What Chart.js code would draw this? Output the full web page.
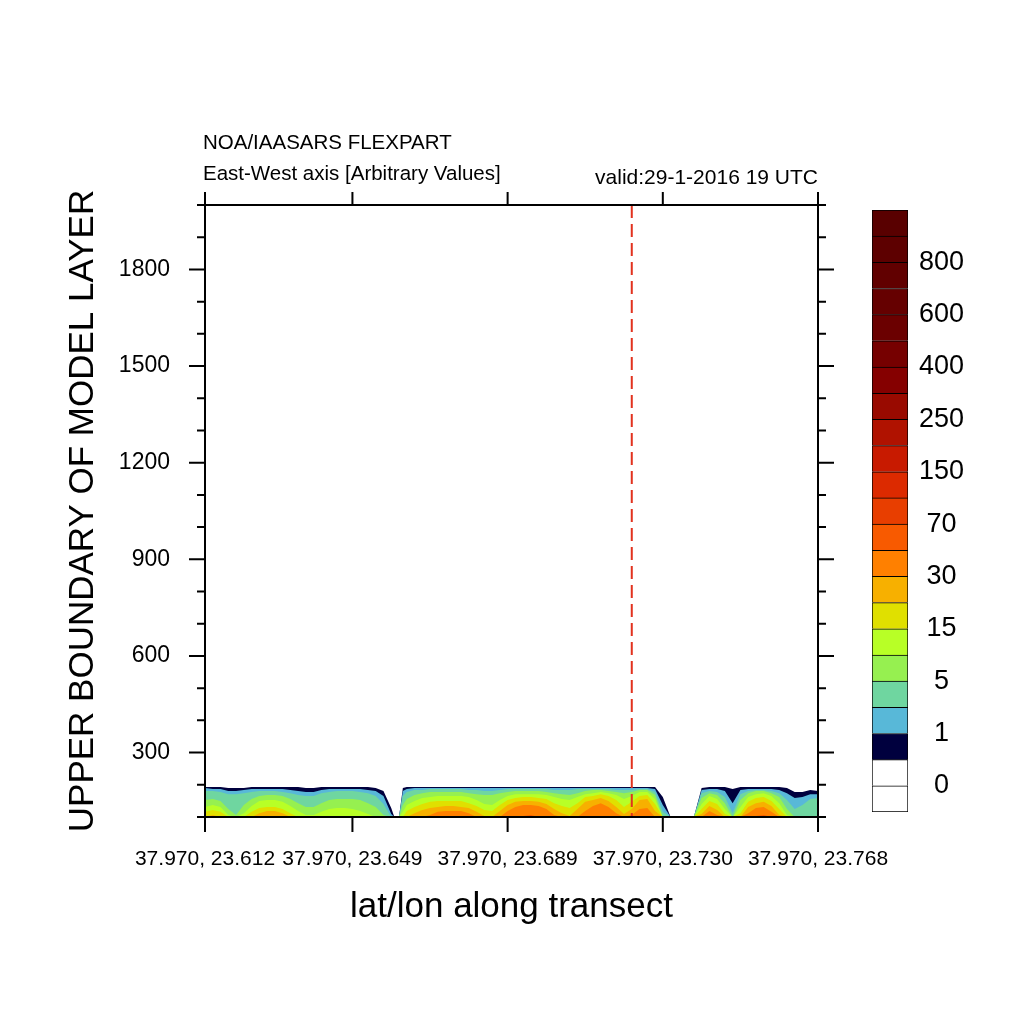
<!DOCTYPE html>
<html>
<head>
<meta charset="utf-8">
<script src="https://cdn.jsdelivr.net/npm/chart.js@4.4.1/dist/chart.umd.min.js"></script>
<style>
  html, body { margin: 0; padding: 0; background: #fff; overflow: hidden; }
  #wrap { position: relative; width: 1024px; height: 1024px; }
  #mainChart { position: absolute; left: 0; top: 0; }
  #scaleChart { position: absolute; left: 872px; top: 200px; }
</style>
</head>
<body>
<div id="wrap">
  <canvas id="mainChart" width="1024" height="1024"></canvas>
  <canvas id="scaleChart" width="152" height="622"></canvas>
</div>
<script>
//============================================= Data =============================================//
// transect point index along the east-west section
const xs = [
    0, 1, 2, 3, 4, 5, 6, 7, 8, 9,
    10, 11, 12, 13, 14, 15, 16, 17, 18, 19,
    20, 21, 22, 23, 24, 24.4, 25, 25.5,
    26, 27, 28, 29, 30, 31, 32, 33, 34, 35,
    36, 37, 38, 39, 40, 41, 42, 43, 44, 45,
    46, 47, 48, 49, 50, 51, 52, 53, 54, 55,
    56, 57, 58, 59, 60, 61, 62, 63, 64, 65,
    66, 67, 68, 69, 70, 71, 72, 73, 74, 75,
    76, 77, 78, 79
];

// height (m) reached by each contour band, per transect point
const navyTop = [
    193, 193, 193, 190, 190, 190, 193, 193, 193, 193,
    193, 193, 193, 190, 190, 193, 193, 193, 193, 193,
    193, 193, 190, 181, 128, 100, 100, 190,
    193, 193, 193, 193, 193, 193, 193, 193, 193, 193,
    193, 193, 193, 193, 193, 193, 193, 193, 193, 193,
    193, 193, 193, 193, 193, 193, 193, 193, 193, 193,
    193, 193, 193, 162, 100, 100, 100, 100, 190, 193,
    193, 193, 187, 193, 193, 193, 193, 193, 193, 190,
    178, 178, 184, 181
];
const blueTop = [
    190, 187, 187, 181, 181, 184, 187, 187, 187, 187,
    187, 184, 181, 178, 178, 184, 187, 187, 187, 187,
    187, 184, 181, 165, 109, 100, 100, 181,
    187, 190, 190, 190, 190, 190, 190, 190, 190, 190,
    190, 190, 190, 190, 190, 190, 190, 190, 190, 190,
    190, 190, 190, 190, 190, 190, 190, 190, 190, 190,
    190, 190, 187, 137, 100, 100, 100, 100, 184, 187,
    187, 181, 143, 184, 187, 187, 187, 187, 184, 174,
    159, 162, 171, 171
];
const tealTop = [
    181, 181, 178, 171, 171, 174, 178, 181, 181, 181,
    178, 174, 168, 165, 165, 174, 178, 181, 181, 181,
    178, 174, 165, 140, 100, 100, 100, 165,
    178, 184, 184, 187, 187, 187, 187, 187, 184, 184,
    181, 181, 184, 187, 187, 187, 187, 187, 187, 184,
    184, 184, 187, 187, 187, 187, 187, 184, 184, 184,
    187, 187, 178, 116, 100, 100, 100, 100, 174, 181,
    178, 162, 112, 171, 181, 184, 184, 181, 174, 153,
    125, 137, 156, 159
];
const greenTop = [
    153, 156, 150, 125, 106, 137, 156, 165, 168, 168,
    165, 156, 143, 131, 131, 143, 153, 156, 156, 156,
    153, 143, 131, 106, 100, 100, 100, 137,
    156, 168, 174, 178, 178, 178, 178, 178, 174, 171,
    168, 168, 174, 178, 181, 181, 181, 181, 178, 174,
    171, 168, 174, 181, 184, 184, 181, 178, 174, 178,
    184, 184, 168, 100, 100, 100, 100, 100, 159, 174,
    168, 143, 100, 153, 174, 181, 181, 174, 162, 125,
    100, 100, 100, 100
];
const limeTop = [
    131, 137, 131, 106, 100, 112, 134, 150, 153, 153,
    147, 134, 119, 106, 106, 116, 125, 128, 128, 125,
    119, 109, 100, 100, 100, 100, 100, 116,
    137, 150, 159, 162, 165, 165, 165, 165, 162, 153,
    140, 137, 153, 165, 171, 171, 171, 171, 168, 162,
    156, 153, 162, 171, 174, 178, 174, 168, 156, 165,
    178, 178, 156, 100, 100, 100, 100, 100, 140, 165,
    156, 125, 100, 131, 162, 171, 174, 165, 143, 106,
    100, 100, 100, 100
];
const yellowTop = [
    116, 122, 116, 100, 100, 100, 116, 128, 131, 131,
    125, 112, 100, 100, 100, 100, 100, 100, 100, 100,
    100, 100, 100, 100, 100, 100, 100, 100,
    119, 131, 140, 147, 150, 150, 150, 150, 143, 134,
    122, 119, 137, 153, 159, 162, 162, 159, 156, 143,
    134, 128, 143, 162, 165, 171, 165, 153, 131, 147,
    165, 168, 140, 100, 100, 100, 100, 100, 125, 150,
    140, 109, 100, 112, 147, 159, 162, 150, 125, 100,
    100, 100, 100, 100
];
const goldTop = [
    100, 106, 100, 100, 100, 100, 100, 112, 119, 119,
    112, 100, 100, 100, 100, 100, 100, 100, 100, 100,
    100, 100, 100, 100, 100, 100, 100, 100,
    100, 112, 122, 128, 131, 134, 134, 131, 128, 116,
    103, 100, 119, 137, 147, 150, 150, 147, 140, 125,
    112, 103, 125, 147, 153, 159, 150, 131, 109, 125,
    153, 156, 119, 100, 100, 100, 100, 100, 109, 134,
    122, 100, 100, 100, 131, 143, 147, 134, 106, 100,
    100, 100, 100, 100
];
const orangeTop = [
    100, 100, 100, 100, 100, 100, 100, 100, 100, 100,
    100, 100, 100, 100, 100, 100, 100, 100, 100, 100,
    100, 100, 100, 100, 100, 100, 100, 100,
    100, 100, 100, 106, 116, 119, 119, 119, 112, 100,
    100, 100, 100, 119, 131, 137, 137, 134, 125, 106,
    100, 100, 100, 119, 134, 143, 131, 112, 100, 106,
    125, 128, 100, 100, 100, 100, 100, 100, 100, 119,
    106, 100, 100, 100, 112, 128, 131, 116, 100, 100,
    100, 100, 100, 100
];
const redTop = [
    100, 100, 100, 100, 100, 100, 100, 100, 100, 100,
    100, 100, 100, 100, 100, 100, 100, 100, 100, 100,
    100, 100, 100, 100, 100, 100, 100, 100,
    100, 100, 100, 100, 100, 100, 100, 100, 100, 100,
    100, 100, 100, 100, 100, 103, 106, 100, 100, 100,
    100, 100, 100, 100, 100, 100, 100, 100, 100, 100,
    100, 100, 100, 100, 100, 100, 100, 100, 100, 100,
    100, 100, 100, 100, 100, 103, 106, 100, 100, 100,
    100, 100, 100, 100
];

const xTickPos = [0, 19, 39, 59, 79];
const xTickLabels = ['37.970, 23.612', '37.970, 23.649', '37.970, 23.689', '37.970, 23.730', '37.970, 23.768'];
const yTickPos = [300, 600, 900, 1200, 1500, 1800];
const yMinorPos = [100, 200, 400, 500, 700, 800, 1000, 1100, 1300, 1400, 1600, 1700, 1900, 2000];
const transectMark = 55;

// colour bar, bottom to top
const scaleSteps = [1, 1, 1, 1, 1, 1, 1, 1, 1, 1, 1, 1, 1, 1, 1, 1, 1, 1, 1, 1, 1, 1, 1];
const scaleTickPos = [1, 3, 5, 7, 9, 11, 13, 15, 17, 19, 21];
const scaleTickLabels = ['0', '1', '5', '15', '30', '70', '150', '250', '400', '600', '800'];

//============================================= Styles =============================================//
const FONT = '"Liberation Sans", Arial, Helvetica, sans-serif';
Chart.defaults.font.family = FONT;
Chart.defaults.color = '#000';

const levelTops = [navyTop, blueTop, tealTop, greenTop, limeTop, yellowTop, goldTop, orangeTop, redTop];
const levelColors = ['#00003e', '#58b8d8', '#6fd6a0', '#96f050', '#b8ff26', '#e0e000', '#f7b000', '#ff8000', '#f85a00'];
const scaleColors = [
    '#ffffff', '#ffffff', '#00003e', '#58b8d8', '#6fd6a0', '#96f050', '#b8ff26', '#e0e000',
    '#f7b000', '#ff8000', '#f85a00', '#e83e00', '#dc2a00', '#c81a00', '#b01200', '#990a00',
    '#850000', '#760000', '#6b0000', '#650000', '#610000', '#5d0000', '#590000'
];

//============================================= Section chart =============================================//
const frameAndMarks = {
    id: 'frameAndMarks',
    afterDatasetsDraw(chart) {
        const { ctx, chartArea: a, scales: { x, y } } = chart;
        ctx.save();

        // transect position
        const px = x.getPixelForValue(transectMark);
        ctx.strokeStyle = '#e2321e';
        ctx.lineWidth = 2;
        ctx.setLineDash([13, 6]);
        ctx.beginPath();
        ctx.moveTo(px, a.top);
        ctx.lineTo(px, a.bottom);
        ctx.stroke();
        ctx.setLineDash([]);

        // frame + ticks
        ctx.strokeStyle = '#000';
        ctx.lineWidth = 2;
        ctx.strokeRect(a.left, a.top, a.right - a.left, a.bottom - a.top);
        ctx.beginPath();
        yMinorPos.forEach(v => {
            const py = y.getPixelForValue(v);
            ctx.moveTo(a.left - 8, py); ctx.lineTo(a.left, py);
            ctx.moveTo(a.right, py); ctx.lineTo(a.right + 8, py);
        });
        yTickPos.forEach(v => {
            const py = y.getPixelForValue(v);
            ctx.moveTo(a.left - 16, py); ctx.lineTo(a.left, py);
            ctx.moveTo(a.right, py); ctx.lineTo(a.right + 16, py);
        });
        xTickPos.forEach(v => {
            const p = x.getPixelForValue(v);
            ctx.moveTo(p, a.bottom); ctx.lineTo(p, a.bottom + 15);
            ctx.moveTo(p, a.top - 13); ctx.lineTo(p, a.top);
        });
        ctx.stroke();

        // header
        ctx.fillStyle = '#000';
        ctx.textBaseline = 'middle';
        ctx.font = '20.5px ' + FONT;
        ctx.textAlign = 'left';
        ctx.fillText('NOA/IAASARS FLEXPART', a.left - 2, a.top - 62);
        ctx.fillText('East-West axis [Arbitrary Values]', a.left - 2, a.top - 31);
        ctx.font = '21px ' + FONT;
        ctx.textAlign = 'right';
        ctx.fillText('valid:29-1-2016 19 UTC', a.right, a.top - 27);
        ctx.restore();
    }
};

const sectionData = {
    datasets: levelTops.map((tops, i) => ({
        data: xs.map((x, j) => ({ x: x, y: tops[j] })),
        backgroundColor: levelColors[i],
        borderColor: 'rgba(0,0,0,0)',
        borderWidth: 0,
        pointRadius: 0,
        tension: 0,
        fill: 'start',
        order: levelTops.length - i
    }))
};

new Chart(document.getElementById('mainChart'), {
    type: 'line',
    data: sectionData,
    options: {
        responsive: false,
        animation: false,
        devicePixelRatio: 1,
        events: [],
        layout: { padding: { left: 0, top: 205, right: 206, bottom: 0 } },
        plugins: {
            legend: { display: false },
            tooltip: { enabled: false }
        },
        scales: {
            x: {
                type: 'linear',
                min: 0,
                max: 79,
                grid: { display: false, drawTicks: false },
                border: { display: false },
                afterBuildTicks: s => { s.ticks = xTickPos.map(v => ({ value: v })); },
                ticks: {
                    autoSkip: false,
                    maxRotation: 0,
                    padding: 30,
                    font: { size: 21 },
                    callback: v => xTickLabels[xTickPos.indexOf(v)]
                },
                title: {
                    display: true,
                    text: 'lat/lon along transect',
                    font: { size: 35 },
                    padding: { top: 0, bottom: 96 }
                },
                afterFit: s => { s.height = 207; }
            },
            y: {
                type: 'linear',
                min: 100,
                max: 2000,
                grid: { display: false, drawTicks: false },
                border: { display: false },
                afterBuildTicks: s => { s.ticks = yTickPos.map(v => ({ value: v })); },
                ticks: {
                    padding: 35,
                    font: { size: 23 },
                    callback: v => String(v)
                },
                title: {
                    display: true,
                    text: 'UPPER BOUNDARY OF MODEL LAYER',
                    font: { size: 35 },
                    padding: { top: 62, bottom: 0 }
                },
                afterFit: s => { s.width = 205; }
            }
        }
    },
    plugins: [frameAndMarks]
});

//============================================= Colour bar =============================================//
new Chart(document.getElementById('scaleChart'), {
    type: 'bar',
    data: {
        labels: [''],
        datasets: scaleSteps.map((step, i) => ({
            data: [step],
            backgroundColor: scaleColors[i],
            borderColor: '#000',
            borderWidth: i === 0 ? 1 : { top: 1, left: 1, right: 1, bottom: 0 },
            borderSkipped: false,
            barPercentage: 1,
            categoryPercentage: 1
        }))
    },
    options: {
        responsive: false,
        animation: false,
        devicePixelRatio: 1,
        events: [],
        layout: { padding: { left: 0, top: 10, right: 0, bottom: 10 } },
        plugins: {
            legend: { display: false },
            tooltip: { enabled: false }
        },
        scales: {
            x: { display: false, stacked: true },
            y: {
                stacked: true,
                position: 'right',
                min: 0,
                max: 23,
                grid: { display: false, drawTicks: false },
                border: { display: false },
                afterBuildTicks: s => { s.ticks = scaleTickPos.map(v => ({ value: v })); },
                ticks: {
                    padding: 11,
                    crossAlign: 'center',
                    font: { size: 27 },
                    callback: v => scaleTickLabels[scaleTickPos.indexOf(v)]
                },
                afterFit: s => {
                    s.width = 116;
                    s.paddingTop = 0;
                    s.paddingBottom = 0;
                }
            }
        }
    }
});
</script>
</body>
</html>
